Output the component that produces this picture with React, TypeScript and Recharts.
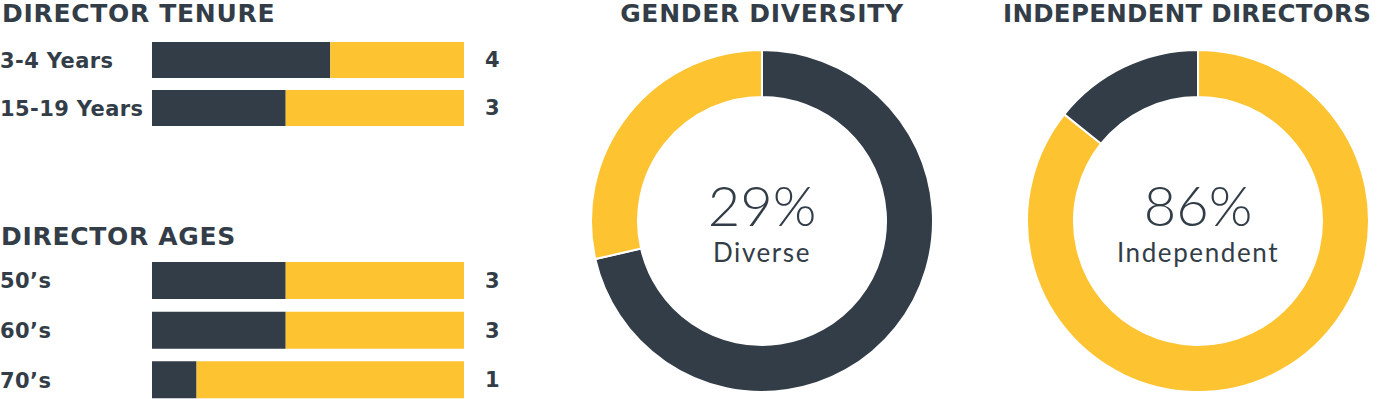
import { BarChart, Bar, XAxis, YAxis, LabelList, PieChart, Pie, Cell, Label } from "recharts";

const DARK = "#333d48";
const YELLOW = "#fdc330";
const TEXT = "#333d48";
const BOLD_FONT = "'DejaVu Sans', sans-serif";
const LIGHT_FONT = "Lato, 'Open Sans', sans-serif";

// board of 7 directors
const BOARD_SIZE = 7;

const tenureLabels = ["3-4 Years", "15-19 Years"];
const tenureCounts = [4, 3];

const ageLabels = ["50\u2019s", "60\u2019s", "70\u2019s"];
const ageCounts = [3, 3, 1];

const genderNames = ["Not diverse", "Diverse"];
const genderValues = [5, 2];
const genderColors = [DARK, YELLOW];

const independentNames = ["Independent", "Not independent"];
const independentValues = [6, 1];
const independentColors = [YELLOW, DARK];

const toRows = (labels: string[], counts: number[]) =>
  labels.map((label, i) => ({ label, count: counts[i], rest: BOARD_SIZE - counts[i] }));

const CategoryTick = ({ y, payload }: any) => (
  <text
    x={0}
    y={y}
    dy={7.5}
    textAnchor="start"
    fill={TEXT}
    fontFamily={BOLD_FONT}
    fontWeight={700}
    fontSize={21}
    letterSpacing={0.4}
  >
    {payload.value}
  </text>
);

function CountBars({ labels, counts, height, barSize }: { labels: string[]; counts: number[]; height: number; barSize: number }) {
  return (
    <BarChart
      layout="vertical"
      width={520}
      height={height}
      data={toRows(labels, counts)}
      margin={{ top: 0, right: 56, bottom: 0, left: 0 }}
      barSize={barSize}
    >
      <XAxis type="number" domain={[0, BOARD_SIZE]} hide />
      <YAxis type="category" dataKey="label" width={152} axisLine={false} tickLine={false} tick={<CategoryTick />} />
      <Bar dataKey="count" stackId="a" fill={DARK} isAnimationActive={false} />
      <Bar dataKey="rest" stackId="a" fill={YELLOW} isAnimationActive={false}>
        <LabelList
          dataKey="count"
          position="right"
          offset={21}
          fill={TEXT}
          fontFamily={BOLD_FONT}
          fontWeight={700}
          fontSize={21}
        />
      </Bar>
    </BarChart>
  );
}

function Donut({ names, values, colors, big, small }: { names: string[]; values: number[]; colors: string[]; big: string; small: string }) {
  const data = names.map((name, i) => ({ name, value: values[i] }));
  return (
    <PieChart width={360} height={399} margin={{ top: 0, right: 0, bottom: 0, left: 0 }}>
      <Pie
        data={data}
        dataKey="value"
        cx={180}
        cy={221}
        innerRadius={124}
        outerRadius={171}
        startAngle={90}
        endAngle={-270}
        stroke="#ffffff"
        strokeWidth={2}
        isAnimationActive={false}
      >
        {data.map((d, i) => (
          <Cell key={d.name} fill={colors[i]} />
        ))}
        <Label
          position="center"
          content={() => (
            <g>
              <text x={180} y={226} textAnchor="middle" fill={TEXT} fontFamily={LIGHT_FONT} fontWeight={300} fontSize={56}>
                {big}
              </text>
              <text x={180} y={262} textAnchor="middle" fill={TEXT} fontFamily={LIGHT_FONT} fontWeight={400} fontSize={26} letterSpacing={1.6}>
                {small}
              </text>
            </g>
          )}
        />
      </Pie>
    </PieChart>
  );
}

const titleStyle = {
  position: "absolute" as const,
  fontFamily: BOLD_FONT,
  fontWeight: 700,
  fontSize: 25,
  lineHeight: "25px",
  letterSpacing: 0.7,
  color: TEXT,
  whiteSpace: "nowrap" as const,
};

export default function App() {
  const genderPct = Math.round((genderValues[1] / BOARD_SIZE) * 100);
  const indepPct = Math.round((independentValues[0] / BOARD_SIZE) * 100);
  return (
    <div style={{ position: "absolute", left: 0, top: 0, width: 1392, height: 399, background: "#fff", overflow: "hidden" }}>
      <div style={{ ...titleStyle, left: 2, top: 1 }}>DIRECTOR TENURE</div>
      <div style={{ ...titleStyle, left: 1, top: 224 }}>DIRECTOR AGES</div>
      <div style={{ ...titleStyle, left: 582, width: 360, top: 1, textAlign: "center" }}>GENDER DIVERSITY</div>
      <div style={{ ...titleStyle, left: 1003, top: 1, fontSize: 24.5, letterSpacing: 0.3 }}>INDEPENDENT DIRECTORS</div>

      <div style={{ position: "absolute", left: 0, top: 36 }}>
        <CountBars labels={tenureLabels} counts={tenureCounts} height={96} barSize={36} />
      </div>
      <div style={{ position: "absolute", left: 0, top: 256 }}>
        <CountBars labels={ageLabels} counts={ageCounts} height={149} barSize={37} />
      </div>

      <div style={{ position: "absolute", left: 582, top: 0 }}>
        <Donut names={genderNames} values={genderValues} colors={genderColors} big={`${genderPct}%`} small="Diverse" />
      </div>
      <div style={{ position: "absolute", left: 1018, top: 0 }}>
        <Donut names={independentNames} values={independentValues} colors={independentColors} big={`${indepPct}%`} small="Independent" />
      </div>
    </div>
  );
}
